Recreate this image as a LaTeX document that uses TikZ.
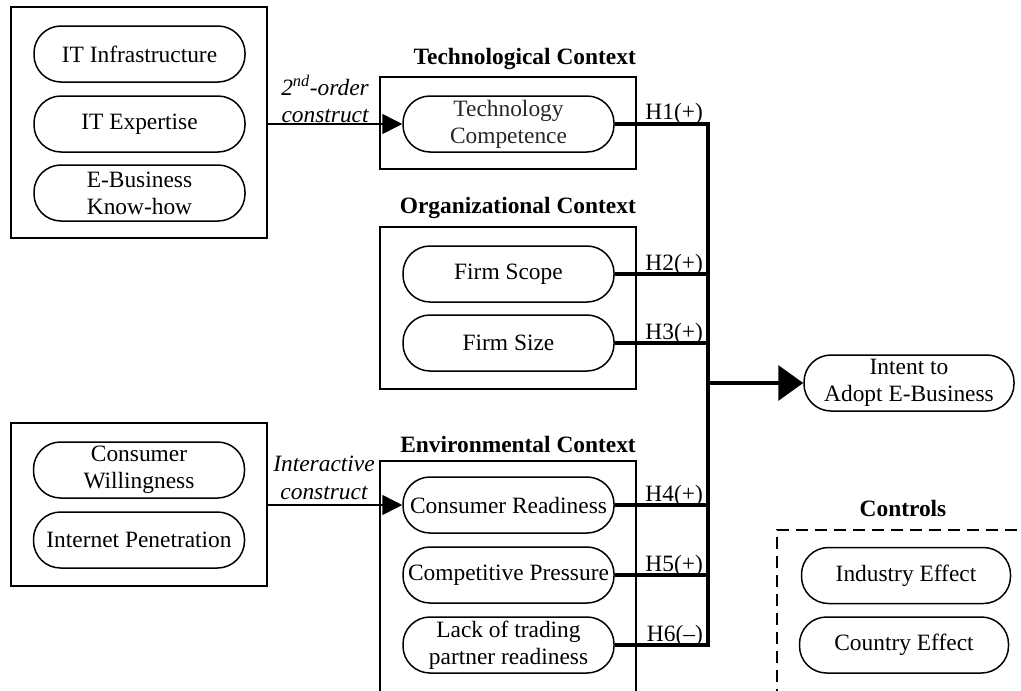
\documentclass[tikz,border=0pt]{standalone}
\usepackage{fontspec}
\setmainfont{Liberation Serif}
\usetikzlibrary{arrows.meta}
\newcommand{\myfs}{\fontsize{23.4}{26.8}\selectfont}
\begin{document}
\begin{tikzpicture}[x=1pt,y=-1pt,
  pill/.style={draw, line width=1.5pt, rounded corners=27pt, minimum width=211pt, minimum height=56pt, inner sep=0pt, align=center, font=\myfs},
  frame/.style={draw, line width=1.6pt, inner sep=0pt},
  ctx/.style={font=\bfseries\myfs, anchor=base east, inner sep=0pt},
  hyp/.style={font=\myfs, anchor=base east, inner sep=0pt},
  cons/.style={font=\itshape\fontsize{23.4}{27.5}\selectfont, align=center, inner sep=0pt},
  hline/.style={line width=3.5pt},
  smallarrow/.style={line width=1.5pt, -{Triangle[length=20pt,width=20pt]}},
  bigarrow/.style={line width=3.5pt, -{Triangle[length=25pt,width=35pt]}},
]
\useasboundingbox (0,0) rectangle (1021,691);
\clip (0,0) rectangle (1021,691);

% left boxes
\node[frame, minimum width=256pt, minimum height=231pt] (tl) at (139,122.5) {};
\node[pill] (itinf) at (139.5,54) {IT Infrastructure};
\node[pill] (itexp) at (139.5,124) {IT Expertise};
\node[pill] (ebkh) at (139.5,193) {E-Business\\Know-how};

\node[frame, minimum width=256pt, minimum height=163pt] (bl) at (139,504.5) {};
\node[pill] (cw) at (139,470) {Consumer\\Willingness};
\node[pill] (ip) at (139,540) {Internet Penetration};

% context boxes
\node[frame, minimum width=256pt, minimum height=92pt] (techbox) at (508,123) {};
\node[frame, minimum width=256pt, minimum height=162pt] (orgbox) at (508,308) {};
\node[frame, minimum width=256pt, minimum height=269pt] (envbox) at (508,595.5) {};

\node[ctx] (techlab) at (636,64) {Technological Context};
\node[ctx] (orglab) at (636,213) {Organizational Context};
\node[ctx] (envlab) at (636,452) {Environmental Context};

\node[pill, text=black!85] (tc) at (508.5,124) {Technology\\Competence};
\node[pill] (fscope) at (508.5,274) {Firm Scope};
\node[pill] (fsize) at (508.5,343) {Firm Size};
\node[pill] (cr) at (508.5,505) {Consumer Readiness};
\node[pill] (cp) at (508.5,575) {Competitive Pressure};
\node[pill] (lack) at (508.5,645) {Lack of trading\\partner readiness};

% construct arrows
\node[cons, anchor=east] (ord) at (369,99) {2\textsuperscript{nd}-order\\construct};
\node[cons] (inter) at (324,478) {Interactive\\construct};
\draw[smallarrow] (tl.east |- tc.west) -- (tc.west);
\draw[smallarrow] (bl.east |- cr.west) -- (cr.west);

% bus
\coordinate (bustop) at (708,124);
\coordinate (busmid) at (708,383);
\coordinate (busbot) at (708,645);
\draw[hline, line join=miter] (tc.east) -- (bustop) -- (busbot) -- (lack.east);
\draw[hline] (fscope.east) -- (fscope.east -| bustop);
\draw[hline] (fsize.east) -- (fsize.east -| bustop);
\draw[hline] (cr.east) -- (cr.east -| bustop);
\draw[hline] (cp.east) -- (cp.east -| bustop);

\node[hyp] (h1) at (703,119) {H1(+)};
\node[hyp] (h2) at (703,270) {H2(+)};
\node[hyp] (h3) at (703,339) {H3(+)};
\node[hyp] (h4) at (703,501) {H4(+)};
\node[hyp] (h5) at (703,571) {H5(+)};
\node[hyp] (h6) at (703,641) {H6(–)};

% outcome
\node[pill, minimum width=210pt] (intent) at (909,383) {Intent to\\Adopt E-Business};
\draw[bigarrow] (busmid) -- (intent.west);

% controls
\node[font=\bfseries\myfs, anchor=base, inner sep=0pt] (ctrl) at (903,516) {Controls};
\coordinate (dc1) at (777,720);
\coordinate (dc2) at (777,530);
\coordinate (dc3) at (1060,530);
\draw[line width=1.6pt, dash pattern=on 12pt off 7pt] (dc1) -- (dc2) -- (dc3);
\node[pill, minimum width=209pt] (ind) at (906,575.5) {Industry Effect};
\node[pill, minimum width=209pt] (cty) at (904,645) {Country Effect};
\end{tikzpicture}
\end{document}
